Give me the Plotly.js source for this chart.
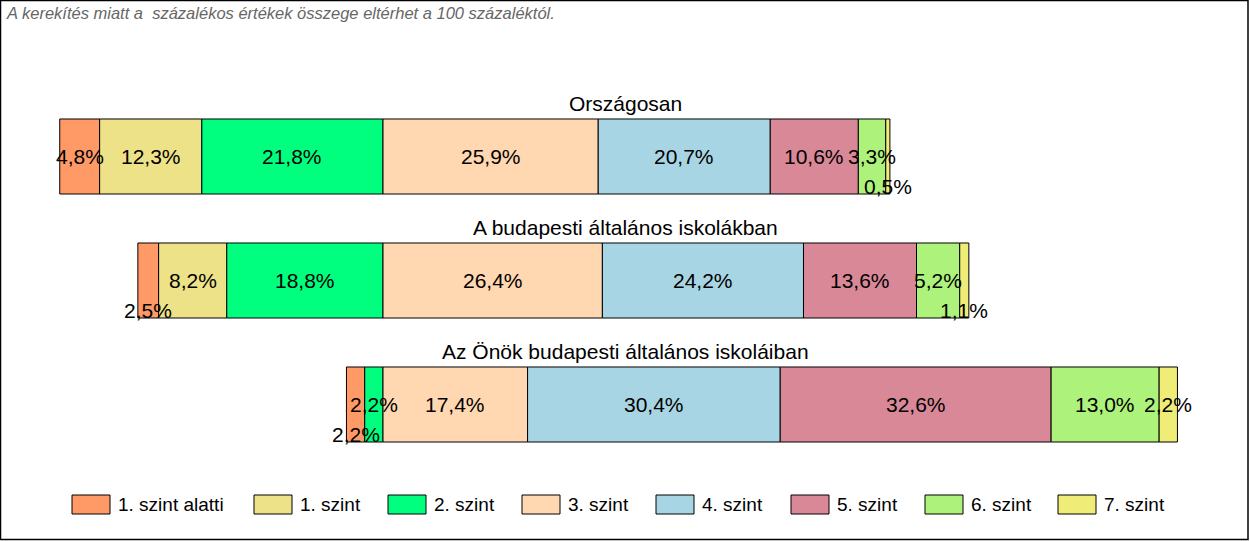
<!DOCTYPE html>
<html>
<head>
<meta charset="utf-8">
<script src="https://cdn.plot.ly/plotly-3.0.1.min.js"></script>
<style>
html,body{margin:0;padding:0;background:#fff;}
#chart{width:1250px;height:541px;}
</style>
</head>
<body>
<div id="chart"></div>
<script>
// ---- data ----
const groups = ["Országosan", "A budapesti általános iskolákban", "Az Önök budapesti általános iskoláiban"];
const levels = ["1. szint alatti", "1. szint", "2. szint", "3. szint", "4. szint", "5. szint", "6. szint", "7. szint"];
const lvBelow1 = [4.8, 2.5, 2.2];
const lv1 = [12.3, 8.2, 0.0];
const lv2 = [21.8, 18.8, 2.2];
const lv3 = [25.9, 26.4, 17.4];
const lv4 = [20.7, 24.2, 30.4];
const lv5 = [10.6, 13.6, 32.6];
const lv6 = [3.3, 5.2, 13.0];
const lv7 = [0.5, 1.1, 2.2];
const note = "A kerekítés miatt a  százalékos értékek összege eltérhet a 100 százaléktól.";

// ---- styles ----
const colors = ["#FF9966", "#EEE288", "#00FF7F", "#FFD7B0", "#A8D5E3", "#D98898", "#ADF27A", "#EFED78"];
// labels that are dropped below the middle of their bar: [level index, group index]
const lowLabels = [[7, 0], [0, 1], [7, 1], [0, 2]];
const FONT = "Liberation Sans, Arial, sans-serif";

const series = [lvBelow1, lv1, lv2, lv3, lv4, lv5, lv6, lv7];
const nLeft = 3; // levels drawn left of the zero line

const k = 8.31; // px per percent
const zeroPx = 383;
const W = 1250, H = 541;
const xr = [-zeroPx / k, (W - zeroPx) / k];
const rowPx = 124, firstCenter = 156.5;
const yTop = -firstCenter / rowPx;
const yBottom = yTop + H / rowPx;

const yIdx = groups.map((g, i) => i);
const traces = [];
const annotations = [];

const leftSum = yIdx.map(i => series.slice(0, nLeft).reduce((s, a) => s + a[i], 0));
const bases = series.map((arr, li) => yIdx.map(i => -leftSum[i] + series.slice(0, li).reduce((s, a) => s + a[i], 0)));

series.forEach((arr, li) => {
  traces.push({
    type: 'bar', orientation: 'h', name: levels[li],
    x: arr, y: yIdx, base: bases[li],
    width: 0.605,
    marker: {color: colors[li], line: {color: '#000', width: 1}},
    hoverinfo: 'skip', showlegend: false
  });
  arr.forEach((v, gi) => {
    if (v <= 0) return;
    const low = lowLabels.some(p => p[0] === li && p[1] === gi);
    annotations.push({
      x: bases[li][gi] + v / 2, y: gi, xref: 'x', yref: 'y',
      text: v.toFixed(1).replace('.', ',') + '%',
      showarrow: false, xanchor: 'center', yanchor: 'middle',
      yshift: low ? -30 : 0,
      font: {family: FONT, size: 21, color: '#000'}
    });
  });
});

groups.forEach((g, gi) => {
  annotations.push({
    x: 0.5, xref: 'paper', y: gi, yref: 'y', yshift: 53.5,
    text: g, showarrow: false, xanchor: 'center', yanchor: 'middle',
    font: {family: FONT, size: 21, color: '#000'}
  });
});

annotations.push({
  x: 4 / W, y: 1 - 13 / H, xref: 'paper', yref: 'paper',
  text: note, showarrow: false, xanchor: 'left', yanchor: 'middle',
  font: {family: FONT, size: 16.5, color: '#666666', style: 'italic'}
});

// manual legend
const shapes = [];
const legX = [72, 254, 388, 522, 656, 791, 925, 1058];
levels.forEach((lv, li) => {
  const x0 = legX[li];
  shapes.push({
    type: 'rect', xref: 'paper', yref: 'paper',
    x0: x0 / W, x1: (x0 + 38) / W, y0: 1 - 514 / H, y1: 1 - 495 / H,
    fillcolor: colors[li], line: {color: '#000', width: 1}
  });
  annotations.push({
    x: (x0 + 44) / W, y: 1 - 504.5 / H, xref: 'paper', yref: 'paper',
    text: lv, showarrow: false, xanchor: 'left', yanchor: 'middle',
    font: {family: FONT, size: 19, color: '#000'}
  });
});

shapes.push({
  type: 'rect', xref: 'paper', yref: 'paper',
  x0: 0.5 / W, x1: 1 - 2 / W, y0: 1.5 / H, y1: 1 - 0.5 / H,
  line: {color: '#000', width: 1.5}, fillcolor: 'rgba(0,0,0,0)'
});

const layout = {
  width: W, height: H,
  margin: {l: 0, r: 0, t: 0, b: 0, pad: 0},
  paper_bgcolor: '#fff', plot_bgcolor: '#fff',
  barmode: 'overlay',
  showlegend: false,
  xaxis: {range: xr, visible: false, fixedrange: true},
  yaxis: {range: [yBottom, yTop], visible: false, fixedrange: true},
  annotations: annotations,
  shapes: shapes,
  font: {family: FONT}
};

Plotly.newPlot('chart', traces, layout, {staticPlot: true, displayModeBar: false});
</script>
</body>
</html>
